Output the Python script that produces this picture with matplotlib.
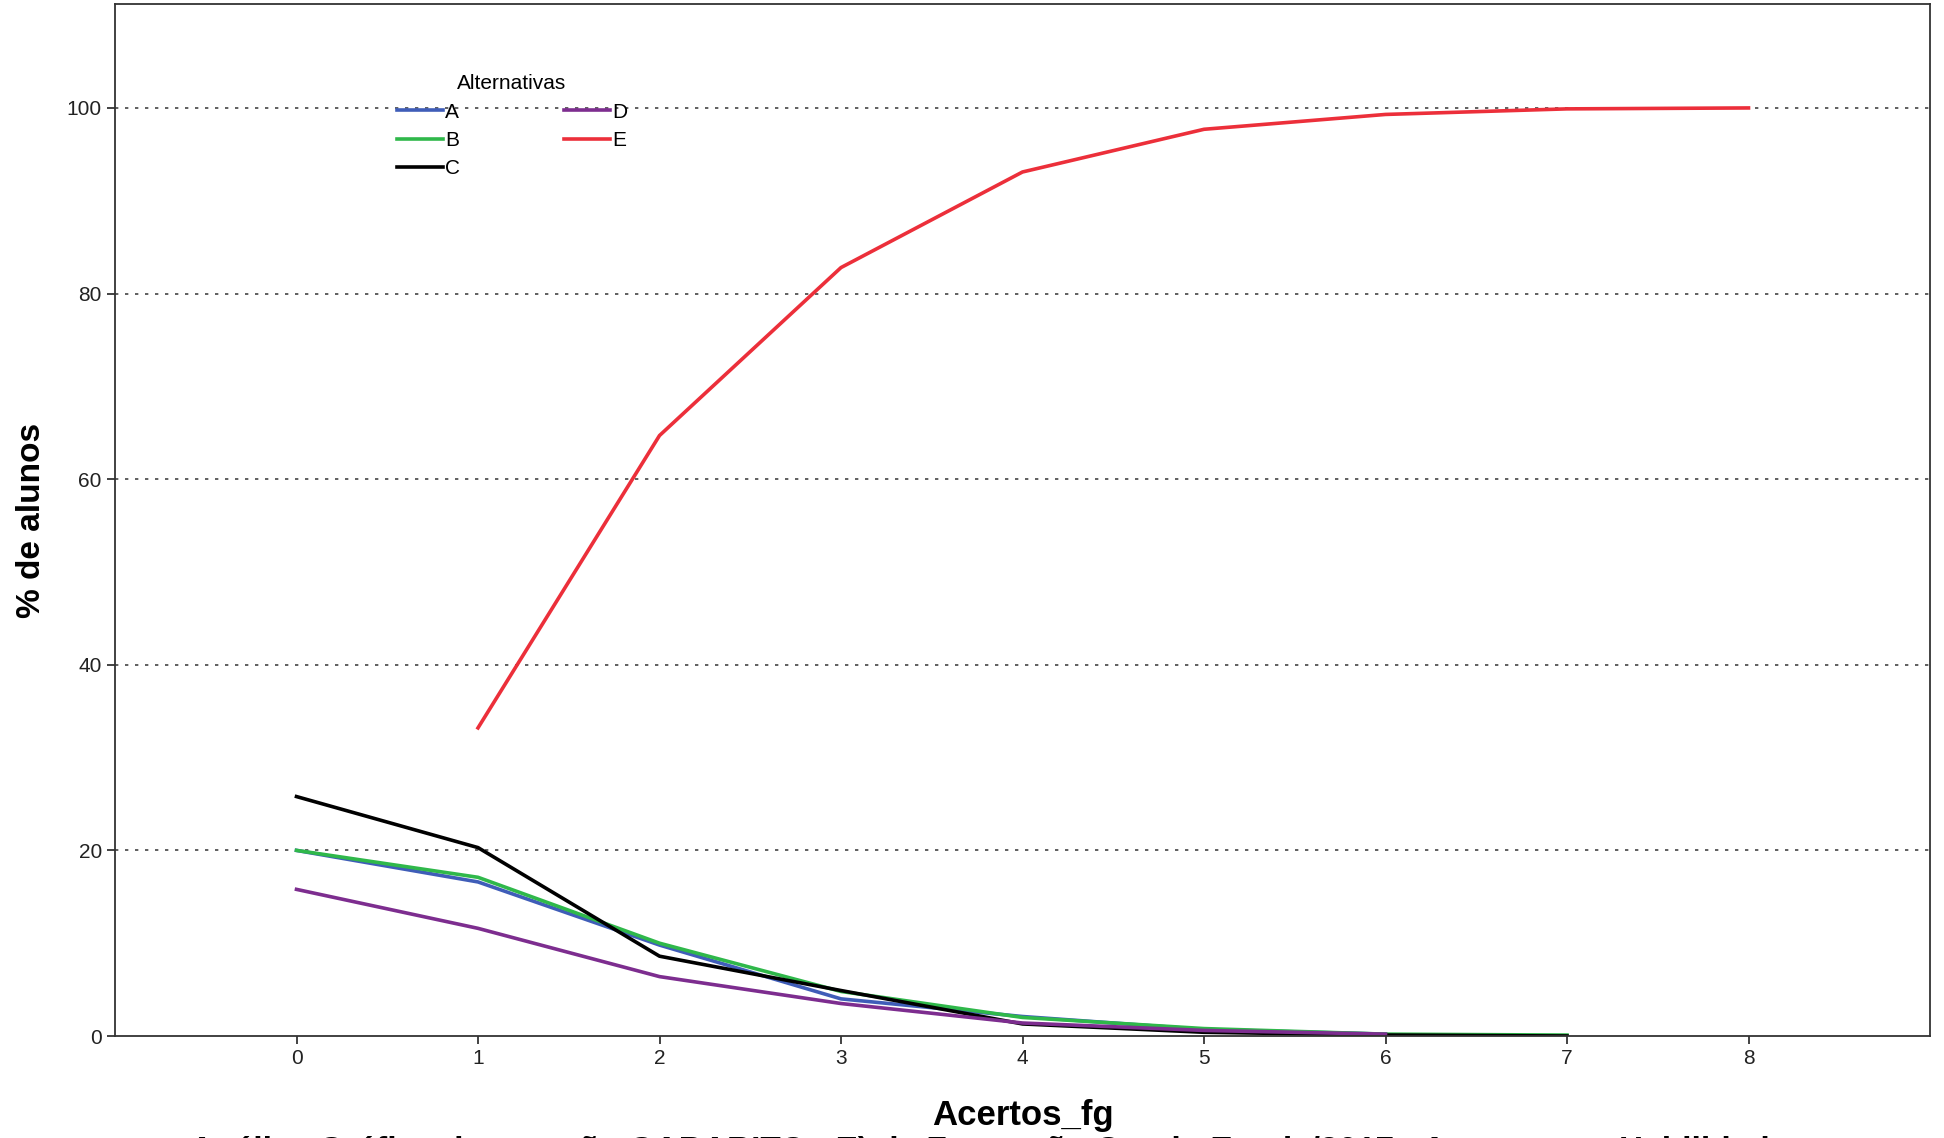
import matplotlib
matplotlib.use("Agg")
import matplotlib.pyplot as plt

plt.rcParams['font.family'] = ['Liberation Sans', 'DejaVu Sans']

# dados
acertos = [0, 1, 2, 3, 4, 5, 6, 7, 8]
alt_A = [20.0, 16.6, 9.8, 4.0, 2.1, 0.7, 0.2]
alt_B = [20.0, 17.1, 10.0, 4.8, 2.0, 0.8, 0.2, 0.1]
alt_C = [25.8, 20.3, 8.6, 4.9, 1.3, 0.4, 0.1, 0.0]
alt_D = [15.8, 11.6, 6.4, 3.5, 1.4, 0.6, 0.2]
alt_E = [33.2, 64.7, 82.8, 93.1, 97.7, 99.3, 99.9, 100.0]
yticks = [0, 20, 40, 60, 80, 100]

fig = plt.figure(figsize=(19.44, 11.38), dpi=100)
ax = fig.add_axes([115 / 1944, 1 - 1036 / 1138, (1930 - 115) / 1944, (1036 - 4) / 1138])

ax.plot(acertos[:len(alt_A)], alt_A, color='#3f5db8', lw=2.6, label='A')
ax.plot(acertos[:len(alt_B)], alt_B, color='#2fb84a', lw=2.6, label='B')
ax.plot(acertos[:len(alt_C)], alt_C, color='black', lw=2.6, label='C')
ax.plot(acertos[:len(alt_D)], alt_D, color='#7d2d8f', lw=2.6, label='D')
ax.plot(acertos[1:1 + len(alt_E)], alt_E, color='#ec2f3a', lw=2.6, label='E')

for v in yticks[1:]:
    ax.axhline(v, color='#444444', ls=(0, (2, 4)), lw=1.2, zorder=0)

ax.set_xlim(-1, 9)
ax.set_ylim(0, 111.2)
ax.set_xticks(acertos)
ax.set_yticks(yticks)
ax.tick_params(labelsize=15, length=6, width=1.2, colors='#222222')
for s in ax.spines.values():
    s.set_linewidth(1.3)
    s.set_color('#333333')

ax.set_ylabel('% de alunos', fontsize=24, fontweight='bold', labelpad=14)
ax.set_xlabel('Acertos_fg', fontsize=25, fontweight='bold', labelpad=22)

leg = ax.legend(ncol=2, title='Alternativas', frameon=False, loc='upper left',
                bbox_to_anchor=(0.145, 0.95), fontsize=15, title_fontsize=15,
                handlelength=2.2, handletextpad=0.1, columnspacing=5.0,
                labelspacing=0.45)

# titulo cortado na borda inferior, como no original
fig.text(0.509, 0.0015, 'Análise Gráfica da questão GABARITO - E) da Formação Geral - Enade/2017 - Acertos por Habilidade',
         fontsize=24, fontweight='bold', va='top', ha='center')

fig.savefig('out.png', dpi=100)
